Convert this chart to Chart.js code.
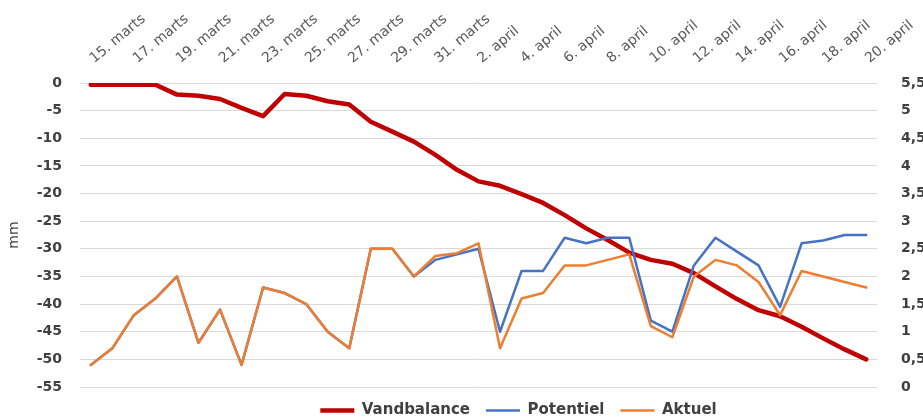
<!DOCTYPE html>
<html>
<head>
<meta charset="utf-8">
<script src="https://cdn.jsdelivr.net/npm/chart.js@4.4.1/dist/chart.umd.min.js"></script>
<style>
  html, body { margin: 0; padding: 0; background: #fff; }
  #wrap { width: 923px; height: 419px; }
</style>
</head>
<body>
<div id="wrap"><canvas id="chart" width="923" height="419"></canvas></div>
<script>
// dates 15. marts - 20. april
const days = [
    "15. marts", "16. marts", "17. marts", "18. marts", "19. marts", "20. marts",
    "21. marts", "22. marts", "23. marts", "24. marts", "25. marts", "26. marts",
    "27. marts", "28. marts", "29. marts", "30. marts", "31. marts",
    "1. april", "2. april", "3. april", "4. april", "5. april", "6. april",
    "7. april", "8. april", "9. april", "10. april", "11. april", "12. april",
    "13. april", "14. april", "15. april", "16. april", "17. april", "18. april",
    "19. april", "20. april"
];

// mm, left axis
const vandbalance = [
    -0.3, -0.3, -0.3, -0.3, -2.1, -2.3, -2.9, -4.5, -6.0, -2.0, -2.3, -3.3, -3.9,
    -7.0, -8.8, -10.6, -13.0, -15.7, -17.8, -18.6, -20.1, -21.7, -23.9, -26.3, -28.4,
    -30.7, -32.0, -32.7, -34.4, -36.8, -39.1, -41.1, -42.2, -44.1, -46.2, -48.2, -50.0
];

// right axis
const potentiel = [
    0.4, 0.7, 1.3, 1.6, 2.0, 0.8, 1.4, 0.4, 1.8, 1.7, 1.5, 1.0, 0.7,
    2.5, 2.5, 2.0, 2.3, 2.4, 2.5, 1.0, 2.1, 2.1, 2.7, 2.6, 2.7,
    2.7, 1.2, 1.0, 2.2, 2.7, 2.45, 2.2, 1.45, 2.6, 2.65, 2.75, 2.75
];
const aktuel = [
    0.4, 0.7, 1.3, 1.6, 2.0, 0.8, 1.4, 0.4, 1.8, 1.7, 1.5, 1.0, 0.7,
    2.5, 2.5, 2.0, 2.37, 2.42, 2.6, 0.7, 1.6, 1.7, 2.2, 2.2, 2.3,
    2.4, 1.1, 0.9, 2.0, 2.3, 2.2, 1.9, 1.3, 2.1, 2.0, 1.9, 1.8
];

const tickFont = { family: "'DejaVu Sans', sans-serif", size: 14, weight: 'bold' };

// the legend sits right of centre in the original
const legendShift = {
    id: 'legendShift',
    afterLayout(chart) {
        chart.legend.left += 57;
        chart.legend.right += 57;
    }
};

let ctx = document.getElementById('chart').getContext('2d');
let chart = new Chart(ctx, {
    type: 'line',
    data: {
        labels: days,
        datasets: [{
            label: 'Vandbalance',
            data: vandbalance,
            borderColor: '#c00000',
            backgroundColor: '#c00000',
            borderWidth: 4.5,
            order: 2,
            yAxisID: 'y'
        }, {
            label: 'Potentiel',
            data: potentiel,
            borderColor: '#4472c4',
            backgroundColor: '#4472c4',
            borderWidth: 2.5,
            order: 1,
            yAxisID: 'y2'
        }, {
            label: 'Aktuel',
            data: aktuel,
            borderColor: '#ed7d31',
            backgroundColor: '#ed7d31',
            borderWidth: 2.5,
            order: 0,
            yAxisID: 'y2'
        }]
    },
    plugins: [legendShift],
    options: {
        responsive: false,
        animation: false,
        layout: { padding: { bottom: -9 } },
        elements: {
            point: { radius: 0 },
            line: { tension: 0, borderCapStyle: 'round', borderJoinStyle: 'round' }
        },
        plugins: {
            tooltip: { enabled: false },
            legend: {
                position: 'bottom',
                labels: {
                    usePointStyle: true,
                    pointStyle: 'line',
                    pointStyleWidth: 34,
                    boxWidth: 34,
                    padding: 16,
                    color: '#404040',
                    font: { family: "'DejaVu Sans', sans-serif", size: 15, weight: 'bold' },
                    sort: (a, b) => a.datasetIndex - b.datasetIndex
                }
            }
        },
        scales: {
            x: {
                position: 'top',
                offset: true,
                grid: { display: false },
                border: { display: false },
                ticks: {
                    autoSkip: false,
                    maxRotation: 40,
                    minRotation: 40,
                    padding: 8,
                    labelOffset: 12,
                    color: '#595959',
                    font: { family: "'DejaVu Sans', sans-serif", size: 14 },
                    callback: function (value, index) {
                        return index % 2 === 0 ? days[index] : '';
                    }
                },
                afterFit: function (scale) { scale.height = 83; }
            },
            y: {
                position: 'left',
                min: -55,
                max: 0,
                grid: { color: '#d9d9d9', drawTicks: false },
                border: { display: false },
                title: {
                    display: true,
                    text: 'mm',
                    color: '#404040',
                    font: { family: "'DejaVu Sans', sans-serif", size: 14 },
                    padding: { top: 6, bottom: 0 }
                },
                ticks: {
                    stepSize: 5,
                    padding: 18,
                    color: '#404040',
                    font: tickFont
                },
                afterFit: function (scale) { scale.width = 80; }
            },
            y2: {
                position: 'right',
                min: 0,
                max: 5.5,
                grid: { display: false },
                border: { display: false },
                ticks: {
                    stepSize: 0.5,
                    padding: 16,
                    color: '#404040',
                    font: tickFont,
                    callback: function (value) {
                        return String(value).replace('.', ',');
                    }
                },
                afterFit: function (scale) { scale.width = 46; }
            }
        }
    }
});
</script>
</body>
</html>
